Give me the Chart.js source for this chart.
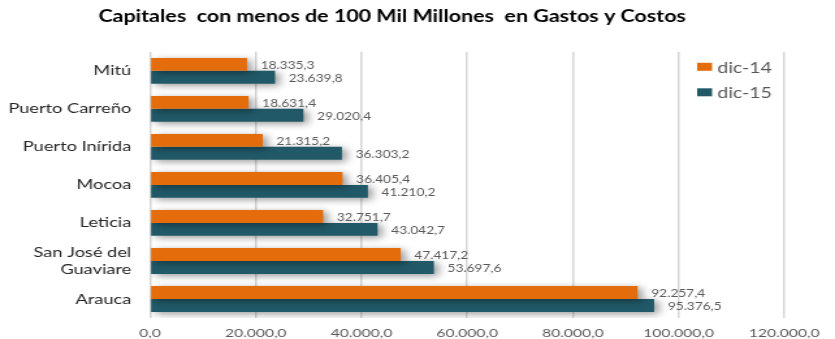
<!DOCTYPE html>
<html>
<head>
<meta charset="utf-8">
<script src="https://cdn.jsdelivr.net/npm/chart.js@4.4.1/dist/chart.umd.min.js"></script>
<style>
  html, body { margin:0; padding:0; background:#fff; }
  #wrap { width:835px; height:339px; overflow:hidden; }
</style>
</head>
<body>
<div id="wrap">
  <!-- se dibuja a 642px de ancho y se estira a 835px, como el gráfico original de Excel -->
  <canvas id="gastosChart" width="642" height="339" style="width:835px;height:339px;display:block"></canvas>
</div>
<script>
// capitales y valores (millones de pesos)
const ciudades = ['Mitú', 'Puerto Carreño', 'Puerto Inírida', 'Mocoa', 'Leticia', ['San José del', 'Guaviare'], 'Arauca'];
const dic14 = [18335.3, 18631.4, 21315.2, 36405.4, 32751.7, 47417.2, 92257.4];
const dic15 = [23639.8, 29020.4, 36303.2, 41210.2, 43042.7, 53697.6, 95376.5];
const series = ['dic-14', 'dic-15'];
const colores = ['#E46C0A', '#215968'];
const ejeMax = 120000;
const ejePaso = 20000;

// 12345.6 -> "12.345,6"
function fmt(v) {
  const [ent, dec] = v.toFixed(1).split('.');
  return ent.replace(/\B(?=(\d{3})+(?!\d))/g, '.') + ',' + dec;
}

const FONT = 'Lato';

// sombra suave bajo las barras
const sombra = {
  id: 'sombra',
  beforeDatasetsDraw(chart) {
    const ctx = chart.ctx;
    ctx.save();
    ctx.shadowColor = 'rgba(0,0,0,0.4)';
    ctx.shadowBlur = 7;
    ctx.shadowOffsetX = 3.5;
    ctx.shadowOffsetY = 2;
  },
  afterDatasetsDraw(chart) {
    chart.ctx.restore();
  }
};

// etiquetas de valor a la derecha de cada barra
const etiquetas = {
  id: 'etiquetas',
  afterDatasetsDraw(chart) {
    const ctx = chart.ctx;
    ctx.save();
    ctx.font = '10.5px "' + FONT + '"';
    ctx.fillStyle = '#595959';
    ctx.textAlign = 'left';
    ctx.textBaseline = 'middle';
    chart.data.datasets.forEach((ds, i) => {
      chart.getDatasetMeta(i).data.forEach((bar, j) => {
        ctx.fillText(fmt(ds.data[j]), bar.x + 10.5, bar.y + 1);
      });
    });
    ctx.restore();
  }
};

// leyenda dentro del área de trazado
const leyenda = {
  id: 'leyenda',
  afterDraw(chart) {
    const ctx = chart.ctx;
    const a = chart.chartArea;
    const x = a.right - 67;
    ctx.save();
    ctx.font = '15px "' + FONT + '"';
    ctx.textBaseline = 'middle';
    series.forEach((nombre, i) => {
      const y = a.top + 15 + i * 25.5;
      ctx.fillStyle = colores[i];
      ctx.fillRect(x, y - 4, 11.5, 8);
      ctx.fillStyle = '#595959';
      ctx.fillText(nombre, x + 15.5, y + 1);
    });
    ctx.restore();
  }
};

new Chart(document.getElementById('gastosChart').getContext('2d'), {
  type: 'bar',
  data: {
    labels: ciudades,
    datasets: [
      { label: series[0], data: dic14, backgroundColor: colores[0] },
      { label: series[1], data: dic15, backgroundColor: colores[1] }
    ]
  },
  options: {
    indexAxis: 'y',
    responsive: false,
    animation: false,
    devicePixelRatio: 1,
    datasets: { bar: { categoryPercentage: 0.68, barPercentage: 1 } },
    layout: { padding: { left: 0, right: 39, top: 0, bottom: 0 } },
    plugins: {
      legend: { display: false },
      tooltip: { enabled: false },
      title: {
        display: true,
        text: 'Capitales  con menos de 100 Mil Millones  en Gastos y Costos',
        color: '#000',
        font: { family: FONT, size: 16.5, weight: 'bold' },
        padding: { top: 7, bottom: 25 }
      }
    },
    scales: {
      x: {
        min: 0,
        max: ejeMax,
        ticks: {
          stepSize: ejePaso,
          color: '#595959',
          font: { family: FONT, size: 12 },
          padding: 8,
          maxRotation: 0,
          callback: v => fmt(v)
        },
        grid: { color: '#d6d6d6', lineWidth: 1.5, drawTicks: false },
        border: { display: false },
        afterFit(axis) { axis.height = 21; }
      },
      y: {
        ticks: {
          color: '#262626',
          font: { family: FONT, size: 14 },
          padding: 14.5
        },
        grid: { display: false, drawTicks: false },
        border: { display: false },
        afterFit(axis) {
          axis.width = 115.4;
          axis.paddingTop = 0;
          axis.paddingBottom = 0;
        }
      }
    }
  },
  plugins: [sombra, etiquetas, leyenda]
});
</script>
</body>
</html>
